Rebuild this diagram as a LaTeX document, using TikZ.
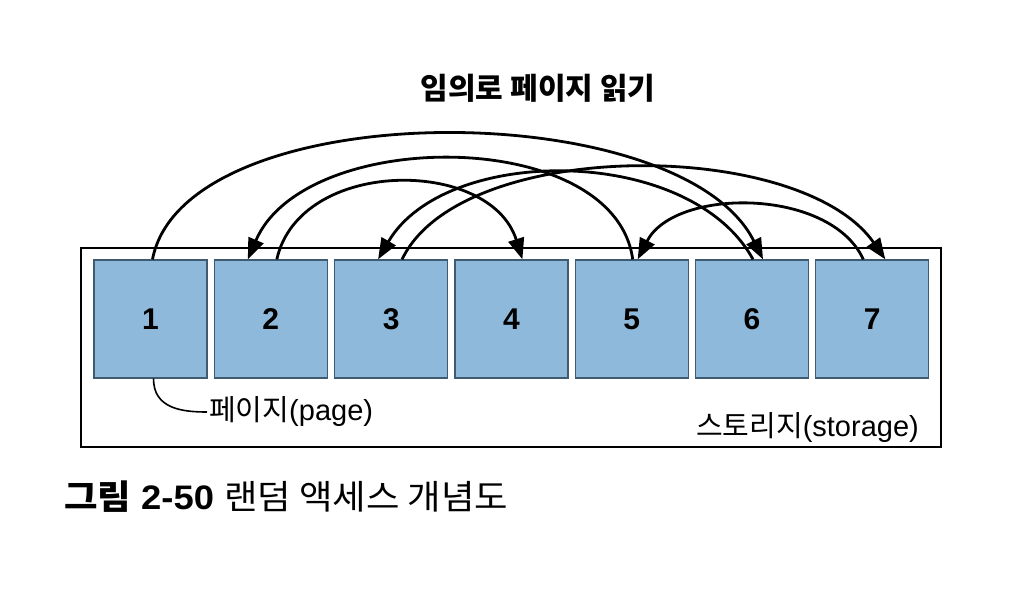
\documentclass[tikz,border=0pt]{standalone}
\usepackage{fontspec}
\setmainfont{Liberation Sans}
\newfontfamily\kr{Noto Sans CJK KR}
\usetikzlibrary{arrows.meta,calc}
\definecolor{boxfill}{HTML}{8EB9DA}
\definecolor{boxline}{HTML}{3F5B72}
\begin{document}
\begin{tikzpicture}[x=1pt,y=-1pt,
  pagebox/.style={draw=boxline,fill=boxfill,line width=1.3pt,minimum width=113pt,minimum height=118pt,inner sep=0pt,font=\fontsize{30}{32}\selectfont\bfseries},
  jump/.style={line width=2.8pt,-{Triangle[length=21pt,width=16pt]}},
  lbl/.style={inner sep=2pt,font=\fontsize{29}{32}\selectfont}
]
\useasboundingbox (0,0) rectangle (1034,612);
\node[draw,line width=1.7pt,minimum width=860pt,minimum height=199pt,inner sep=0pt] (storage) at (511,347.5) {};
\foreach \i/\x in {1/150.5,2/270.8,3/391.1,4/511.4,5/631.7,6/752.0,7/872.3}
  \node[pagebox] (b\i) at (\x,319) {\i};

\node[font=\kr\fontsize{30}{32}\selectfont\bfseries] (title) at (538,88) {임의로 페이지 읽기};

% reading order 1 -> 6 -> 3 -> 7 -> 5 -> 2 -> 4
\draw[jump] ($(b1.north)+(2,0)$) .. controls +(32,-166) and +(-83,-166) .. ($(b6.north)+(11,0)$);
\draw[jump] ($(b6.north)+(1,0)$) .. controls +(-63,-115) and +(67,-115) .. ($(b3.north)+(-13,0)$);
\draw[jump] ($(b3.north)+(11,0)$) .. controls +(58,-122) and +(-85,-122) .. ($(b7.north)+(13,0)$);
\draw[jump] ($(b7.north)+(-9,0)$) .. controls +(-33,-72) and +(37,-72) .. ($(b5.north)+(6,0)$);
\draw[jump] ($(b5.north)+(1,0)$) .. controls +(-18,-133) and +(57,-133) .. ($(b2.north)+(-23,0)$);
\draw[jump] ($(b2.north)+(6,0)$) .. controls +(23,-102) and +(-32,-102) .. ($(b4.north)+(11,0)$);

\node[lbl,anchor=west] (pagelabel) at (207,412) {{\kr 페이지}(page)};
\draw[line width=1.6pt] ($(b1.south)+(3,0)$) .. controls +(0,30) and +(-25,0) .. (pagelabel.west);
\node[lbl,anchor=east] (storagelabel) at (921,428) {{\kr 스토리지}(storage)};

\node[anchor=west,inner sep=0pt,font=\fontsize{34}{36}\selectfont] (caption) at (64,497)
  {\scalebox{1.07}[1]{{\kr\bfseries 그림} \textbf{2-50} {\kr 랜덤 액세스 개념도}}};
\end{tikzpicture}
\end{document}
